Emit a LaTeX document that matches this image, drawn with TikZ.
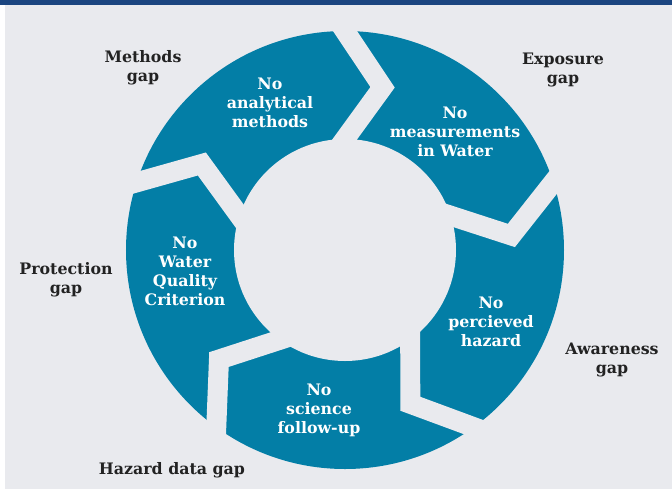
\documentclass[tikz,border=0pt]{standalone}
\usepackage{fontspec}
\setmainfont{DejaVu Serif}
\usepackage{tikz}
\usetikzlibrary{calc,positioning}
\definecolor{ringblue}{RGB}{3,126,166}
\definecolor{paper}{RGB}{233,234,238}
\definecolor{barblue}{RGB}{27,69,128}
\definecolor{labelgrey}{RGB}{34,34,34}

\begin{document}
\begin{tikzpicture}[
    x=0.02cm,
    y=0.02cm,
    font=\bfseries\fontsize{9}{10.8}\selectfont,
    stage/.style={
		text=white,
		align=center,
		inner sep=0pt
	},
	gaplabel/.style={
		text=labelgrey,
		align=center,
		inner sep=0pt
	},
	gapline/.style={
		draw=paper,
		line width=0.4cm,
		line join=miter
	}
  ]
  \useasboundingbox (-345,-241) rectangle (327,250);
  \fill[white] (-345,-241) rectangle (327,250);
  \fill[paper] (-340,-239) rectangle (327,245);

  % the ring, cut into five arrows
  \fill[ringblue] (0,0) circle (219);
  \fill[paper] (0,0) circle (111);
  \foreach \a in {90,18,-54,-126,-198}
    \draw[gapline] ($(\a-13:167)!1.3!(\a:219)$) -- (\a-13:167) -- ($(\a-13:167)!1.5!(\a:111)$);

  % bar along the top
  \fill[barblue] (-345,245) rectangle (327,250);

  % text on the arrows
  \node[stage] (methods) at (-75,147) {No\\analytical\\methods};
  \node[stage] (exposure) at (110,118) {No\\measurements\\in Water};
  \node[stage] (awareness) at (146,-72) {No\\percieved\\hazard};
  \node[stage] (hazard) at (-26,-160) {No\\science\\follow-up};
  \node[stage] (protection) at (-160,-21) {No\\Water\\Quality\\Criterion};

  % the gaps round the ring
  \node[gaplabel] (methodsgap) at (-202,182) {Methods\\gap};
  \node[gaplabel] (exposuregap) at (218,180) {Exposure\\gap};
  \node[gaplabel] (awarenessgap) at (267,-110) {Awareness\\gap};
  \node[gaplabel] (protectiongap) at (-279,-30) {Protection\\gap};
  \node[gaplabel] (hazardgap) at (-173,-220) {Hazard data gap};

\end{tikzpicture}
\end{document}
